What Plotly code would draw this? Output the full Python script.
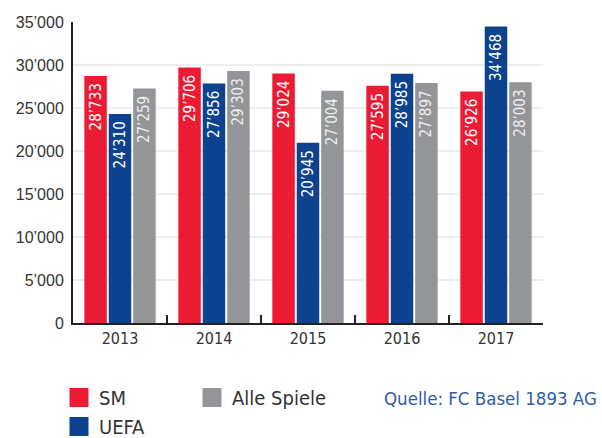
import plotly.graph_objects as go

years = ["2013", "2014", "2015", "2016", "2017"]
sm = [28733, 29706, 29024, 27595, 26926]
uefa = [24310, 27856, 20945, 28985, 34468]
alle = [27259, 29303, 27004, 27897, 28003]
y_tickvals = [0, 5000, 10000, 15000, 20000, 25000, 30000, 35000]
y_ticktext = ["0", "5’000", "10’000", "15’000", "20’000", "25’000", "30’000", "35’000"]
source_text = "Quelle: FC Basel 1893 AG"

RED = "#EC1B34"
BLUE = "#0C428E"
GRAY = "#939598"
NARROW = "DejaVu Sans Condensed, Roboto Condensed, Liberation Sans Narrow, sans-serif"
REG = "Liberation Sans, Arial, sans-serif"


def fmt(v):
    return f"{v:,}".replace(",", "’")


fig = go.Figure()
for name, vals, col, tcol in [("SM", sm, RED, "white"), ("UEFA", uefa, BLUE, "white"),
                              ("Alle Spiele", alle, GRAY, "#eeeeee")]:
    fig.add_trace(go.Bar(
        x=years, y=vals, name=name, marker=dict(color=col, line=dict(width=0)),
        text=[fmt(v) + " " for v in vals], textposition="inside", insidetextanchor="end",
        textangle=-90, constraintext="none",
        textfont=dict(color=tcol, size=15, family=NARROW),
        showlegend=False, hoverinfo="x+y",
    ))

# legend proxies (bigger square swatches)
for name, col, lg, rank in [("SM", RED, "legend", 1), ("UEFA", BLUE, "legend", 2),
                            ("Alle Spiele", GRAY, "legend2", 3)]:
    fig.add_trace(go.Scatter(
        x=[None], y=[None], mode="markers", name=name, legend=lg, legendrank=rank,
        marker=dict(symbol="square", size=16, color=col, line=dict(width=3, color=col)),
    ))

fig.update_layout(
    width=602, height=438,
    margin=dict(l=73, r=59, t=22, b=115, autoexpand=False),
    paper_bgcolor="white", plot_bgcolor="white",
    barmode="group", bargap=0.22, bargroupgap=0.08,
    font=dict(family=NARROW, color="#333333"),
    legend=dict(xref="container", yref="container", x=59 / 602, y=1 - 378 / 438,
                xanchor="left", yanchor="top", orientation="v",
                font=dict(size=20, family=NARROW, color="#333333"),
                bgcolor="rgba(0,0,0,0)", itemwidth=30),
    legend2=dict(xref="container", yref="container", x=192 / 602, y=1 - 378 / 438,
                 xanchor="left", yanchor="top", orientation="v",
                 font=dict(size=20, family=NARROW, color="#333333"),
                 bgcolor="rgba(0,0,0,0)", itemwidth=30),
    annotations=[dict(text=source_text, xref="paper", yref="paper", showarrow=False,
                      x=(599 - 73) / 470, y=(323 - 399) / 301, xanchor="right", yanchor="middle",
                      font=dict(size=18.5, family=NARROW, color="#2D5DA8"))],
)
fig.update_xaxes(
    type="category", showline=True, linewidth=2, linecolor="#222222",
    ticks="inside", tickson="boundaries", ticklen=8, tickwidth=2, tickcolor="#222222",
    tickfont=dict(size=16, family=NARROW, color="#333333"), showgrid=False, tickangle=0,
)
fig.update_yaxes(
    range=[0, 35000], tickvals=y_tickvals, ticktext=y_ticktext,
    showline=True, linewidth=2, linecolor="#222222", ticks="",
    showgrid=True, gridcolor="#eeeeee", gridwidth=2, zeroline=False,
    tickfont=dict(size=16, family=REG, color="#333333"), ticklabelstandoff=4,
)

fig.write_html("out.html", config={"displayModeBar": False},
               post_script="document.body.style.margin='0';")
